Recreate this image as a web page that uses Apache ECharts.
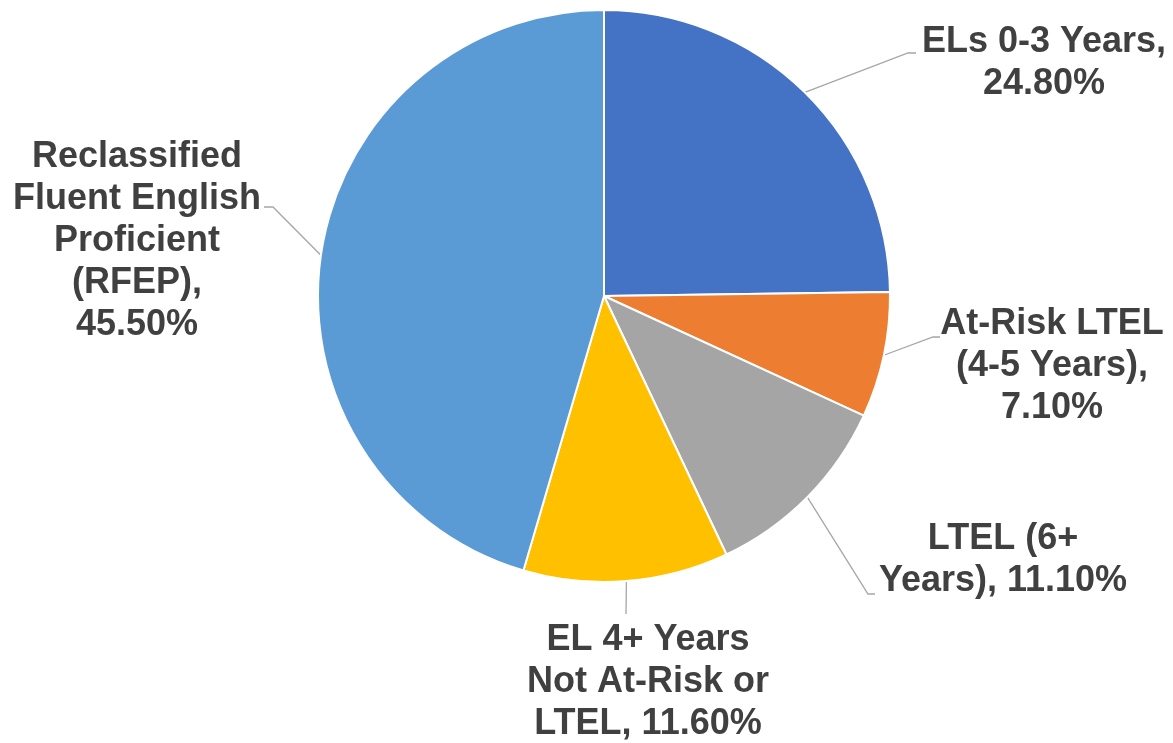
<!DOCTYPE html>
<html>
<head>
<meta charset="utf-8">
<script src="https://cdn.jsdelivr.net/npm/echarts@6/dist/echarts.min.js"></script>
<style>
  html, body { margin: 0; padding: 0; background: #ffffff; }
  #chart { width: 1173px; height: 743px; }
</style>
</head>
<body>
<div id="chart"></div>
<script>
// Student groups (clockwise from 12 o'clock) and their shares, in percent
const categories = [
  'ELs 0-3 Years',
  'At-Risk LTEL (4-5 Years)',
  'LTEL (6+ Years)',
  'EL 4+ Years Not At-Risk or LTEL',
  'Reclassified Fluent English Proficient (RFEP)'
];
const shares = [24.8, 7.1, 11.1, 11.6, 45.5];

// Wrapped label text that precedes each percentage
const labelPrefixes = [
  'ELs 0-3 Years,\n',
  'At-Risk LTEL\n(4-5 Years),\n',
  'LTEL (6+\nYears), ',
  'EL 4+ Years\nNot At-Risk or\nLTEL, ',
  'Reclassified\nFluent English\nProficient\n(RFEP),\n'
];

const sliceColors = ['#4472C4', '#ED7D31', '#A5A5A5', '#FFC000', '#5B9BD5'];

// Label placement: top-centre of each text block, plus the bend and end of its leader line
const labelPlacement = [
  { x: 1044, y: 21,  bend: [908, 53],  end: [916, 53] },
  { x: 1052, y: 303, bend: [933, 337], end: [940, 337] },
  { x: 1003, y: 518, bend: [868, 594], end: [875, 594] },
  { x: 648,  y: 619, bend: [626, 614], end: [626, 614] },
  { x: 137,  y: 136, bend: [273, 207], end: [264, 207] }
];

const chart = echarts.init(document.getElementById('chart'), null, { renderer: 'canvas' });

chart.setOption({
  backgroundColor: '#ffffff',
  animation: false,
  series: [{
    type: 'pie',
    center: [604, 296],
    radius: 286,
    startAngle: 90,
    clockwise: true,
    avoidLabelOverlap: false,
    data: categories.map((name, i) => ({
      name: name,
      value: shares[i],
      itemStyle: { color: sliceColors[i] }
    })),
    itemStyle: { borderColor: '#ffffff', borderWidth: 2 },
    label: {
      show: true,
      position: 'outside',
      color: '#404040',
      fontFamily: 'Liberation Sans, Arial, sans-serif',
      fontWeight: 'bold',
      fontSize: 36,
      lineHeight: 42,
      align: 'center',
      formatter: p => labelPrefixes[p.dataIndex] + p.value.toFixed(2) + '%'
    },
    labelLine: {
      show: true,
      length: 20,
      length2: 8,
      smooth: false,
      lineStyle: { color: '#A6A6A6', width: 1.3 }
    },
    labelLayout: function (params) {
      const spot = labelPlacement[params.dataIndex];
      const start = params.labelLinePoints ? params.labelLinePoints[0] : spot.bend;
      return {
        x: spot.x,
        y: spot.y,
        align: 'center',
        verticalAlign: 'top',
        hideOverlap: false,
        labelLinePoints: [start, spot.bend, spot.end]
      };
    },
    emphasis: { disabled: true }
  }]
});
</script>
</body>
</html>
